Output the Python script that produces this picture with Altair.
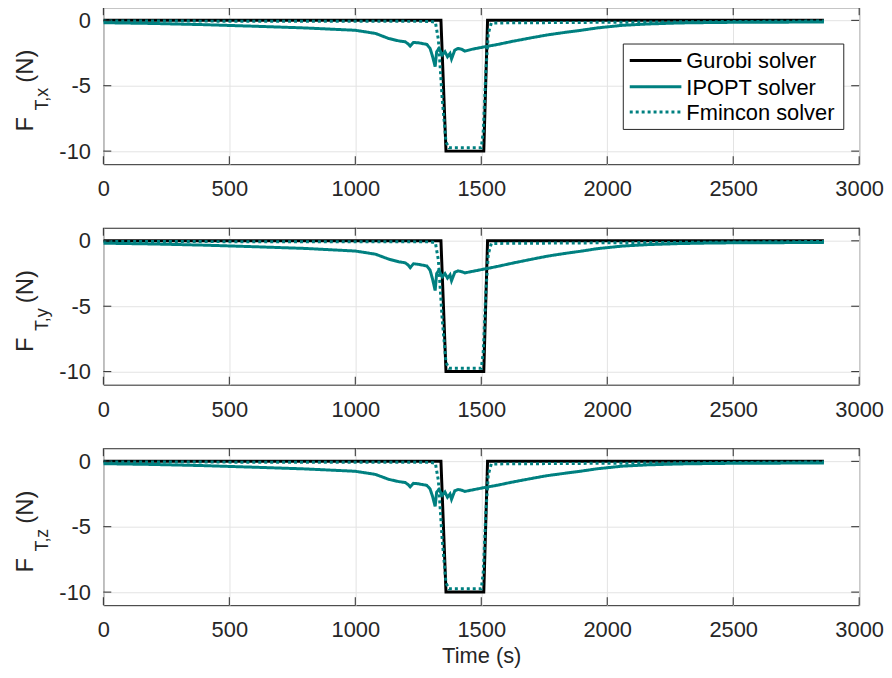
import altair as alt
import pandas as pd

# ---------------- data ----------------
solvers = ["Gurobi solver", "IPOPT solver", "Fmincon solver"]
colors = ["#000000", "#008080", "#008080"]
dashes = [[1, 0], [1, 0], [3, 3]]

xticks = [0, 500, 1000, 1500, 2000, 2500, 3000]
yticks = [-10, -5, 0]

gurobi_t = [0, 1340, 1360, 1510, 1525, 2860]
gurobi_v = [0, 0, -10, -10, 0, 0]

fmincon_t = [0, 1300, 1318, 1330, 1345, 1360, 1372, 1500, 1508, 1518, 1528, 1540, 2860]
fmincon_v = [-0.05, -0.08, -0.15, -1.5, -6.0, -9.3, -9.75, -9.75, -8.5, -4.0, -1.0, -0.2, -0.05]

ipopt_t = [0, 200, 400, 600, 800, 1000, 1080, 1133, 1172, 1198, 1210, 1218, 1231, 1251,
           1284, 1297, 1307, 1317, 1323, 1332, 1345, 1356, 1366, 1376, 1382, 1395, 1408,
           1421, 1435, 1461, 1514, 1566, 1620, 1697, 1760, 1829, 1900, 1960, 2060, 2160,
           2284, 2400, 2507, 2650, 2860]
ipopt_x = [-0.18, -0.24, -0.33, -0.45, -0.58, -0.76, -1.0, -1.39, -1.57, -1.64, -1.8, -1.97,
           -1.69, -1.72, -1.84, -2.15, -2.78, -3.54, -2.4, -2.15, -2.65, -2.4, -2.78, -2.53,
           -2.95, -2.27, -2.15, -2.2, -2.35, -2.22, -2.02, -1.84, -1.62, -1.34, -1.12, -0.93,
           -0.75, -0.58, -0.38, -0.28, -0.2, -0.17, -0.15, -0.14, -0.13]
ipopt_y = [-0.18, -0.24, -0.33, -0.45, -0.58, -0.78, -1.02, -1.4, -1.6, -1.68, -1.85, -2.05,
           -1.75, -1.8, -1.92, -2.25, -2.95, -3.8, -2.5, -2.25, -2.75, -2.5, -2.85, -2.6,
           -3.05, -2.4, -2.3, -2.35, -2.45, -2.35, -2.15, -1.95, -1.72, -1.42, -1.18, -0.97,
           -0.78, -0.6, -0.4, -0.29, -0.21, -0.17, -0.15, -0.14, -0.13]
ipopt_z = [-0.18, -0.24, -0.33, -0.45, -0.58, -0.76, -1.0, -1.38, -1.55, -1.62, -1.78, -1.95,
           -1.68, -1.72, -1.84, -2.12, -2.7, -3.45, -2.35, -2.15, -2.6, -2.35, -2.75, -2.5,
           -2.9, -2.25, -2.15, -2.2, -2.3, -2.2, -2.0, -1.82, -1.6, -1.32, -1.1, -0.92,
           -0.74, -0.57, -0.37, -0.27, -0.2, -0.17, -0.15, -0.14, -0.13]

title_subs = ["T,x", "T,y", "T,z"]

# ---------------- styling ----------------
FONT = "Liberation Sans"
AX = "#262626"
GRID = "#e3e3e3"
W, H = 761, 158
one = alt.Data(values=[{"a": 1}])


def legend_layers():
    # legend box and entries (styling positions, in plot pixels)
    box = alt.Chart(one).mark_rect(fill="white", stroke=AX, strokeWidth=1).encode(
        x=alt.value(523.5), x2=alt.value(745.5), y=alt.value(37), y2=alt.value(123))
    out = [box]
    rows_y = [53.5, 80, 105.5]
    for s, c, d, yy in zip(solvers, colors, dashes, rows_y):
        out.append(alt.Chart(one).mark_rule(color=c, strokeWidth=3, strokeDash=d).encode(
            x=alt.value(530), x2=alt.value(582), y=alt.value(yy)))
        out.append(alt.Chart(one).mark_text(text=s, align="left", baseline="middle", fontSize=22,
                                            font=FONT, color="#000000").encode(
            x=alt.value(587), y=alt.value(yy + 1)))
    return out


def panel(ipopt_v, sub, first, last):
    rows = []
    for t, v in zip(gurobi_t, gurobi_v):
        rows.append({"t": t, "v": v, "solver": solvers[0]})
    for t, v in zip(ipopt_t, ipopt_v):
        rows.append({"t": t, "v": v, "solver": solvers[1]})
    for t, v in zip(fmincon_t, fmincon_v):
        rows.append({"t": t, "v": v, "solver": solvers[2]})
    df = pd.DataFrame(rows)

    xs = alt.Scale(domain=[0, 3000], nice=False, zero=False)
    ys = alt.Scale(domain=[-11, 1], nice=False, zero=False)
    xaxis = alt.Axis(values=xticks, grid=True, gridColor=GRID, ticks=False, domain=False,
                     labelFlush=False, labelOverlap=False, labelPadding=15,
                     labelExpr="'' + datum.value")
    yaxis = alt.Axis(values=yticks, grid=True, gridColor=GRID, ticks=False, domain=False,
                     labelPadding=13, labelExpr="'' + datum.value")

    xt = "Time (s)" if last else None
    X = alt.X("t:Q", scale=xs, axis=xaxis, title=xt)
    Y = alt.Y("v:Q", scale=ys, axis=yaxis, title=None)

    lines = alt.Chart(df).mark_line(strokeWidth=3, clip=True).encode(
        x=X, y=Y,
        color=alt.Color("solver:N", scale=alt.Scale(domain=solvers, range=colors), legend=None),
        strokeDash=alt.StrokeDash("solver:N", scale=alt.Scale(domain=solvers, range=dashes), legend=None),
        order=alt.Order("t:Q"),
    )

    xt_df = pd.DataFrame({"t": xticks})
    yt_df = pd.DataFrame({"v": yticks})
    tick_style = dict(color=AX, strokeWidth=1)
    top_ticks = alt.Chart(xt_df).mark_rule(**tick_style).encode(x=X, y=alt.value(0), y2=alt.value(8))
    bot_ticks = alt.Chart(xt_df).mark_rule(**tick_style).encode(x=X, y=alt.value(H - 8), y2=alt.value(H))
    left_ticks = alt.Chart(yt_df).mark_rule(**tick_style).encode(y=Y, x=alt.value(0), x2=alt.value(8))
    right_ticks = alt.Chart(yt_df).mark_rule(**tick_style).encode(y=Y, x=alt.value(W - 8), x2=alt.value(W))

    tF = alt.Chart(one).mark_text(text="F", angle=270, align="left", baseline="alphabetic",
                                  fontSize=24, font=FONT, color=AX).encode(
        x=alt.value(-70.7), y=alt.value(125))
    tS = alt.Chart(one).mark_text(text=sub, angle=270, align="left", baseline="alphabetic",
                                  fontSize=18, font=FONT, color=AX).encode(
        x=alt.value(-55.5), y=alt.value(104))
    tN = alt.Chart(one).mark_text(text=" (N)", angle=270, align="left", baseline="alphabetic",
                                  fontSize=24, font=FONT, color=AX).encode(
        x=alt.value(-70.7), y=alt.value(76))

    layers = [lines, top_ticks, bot_ticks, left_ticks, right_ticks, tF, tS, tN]
    if first:
        layers += legend_layers()
    return alt.layer(*layers).properties(width=W, height=H)


p1 = panel(ipopt_x, title_subs[0], True, False)
p2 = panel(ipopt_y, title_subs[1], False, False)
p3 = panel(ipopt_z, title_subs[2], False, True)

chart = alt.vconcat(p1, p2, p3, spacing=64, bounds="flush").resolve_scale(
    color="independent", strokeDash="independent"
).properties(
    padding={"left": 5, "top": -4, "right": 0, "bottom": 0}
).configure(background="white").configure_view(stroke=AX, strokeWidth=1).configure_axis(
    labelFont=FONT, labelFontSize=22, labelColor=AX, titleFont=FONT, titleFontSize=22,
    titleFontWeight="normal", titleColor=AX, titlePadding=5
)

chart.save("out.html", embed_options={"renderer": "svg", "actions": False})
